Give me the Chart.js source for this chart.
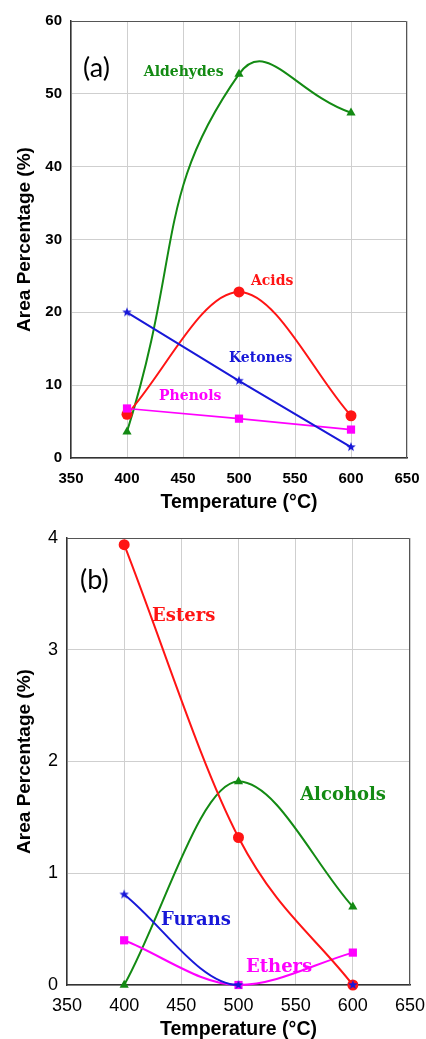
<!DOCTYPE html>
<html>
<head>
<meta charset="utf-8">
<script src="https://cdn.jsdelivr.net/npm/chart.js@4"></script>
<style>
  html, body { margin: 0; padding: 0; background: #fff; }
  #wrap { position: relative; width: 426px; height: 1039px; overflow: hidden; }
  #chartA { position: absolute; left: 0; top: 0; }
  #chartB { position: absolute; left: 0; top: 520px; }
</style>
</head>
<body>
<div id="wrap">
  <canvas id="chartA" width="426" height="520"></canvas>
  <canvas id="chartB" width="426" height="519"></canvas>
</div>
<script>
// temperatures (°C)
const temps = [400, 500, 600];

// panel (a), area %
const aldehydes = [3.6, 52.7, 47.4];
const acids = [6.0, 22.8, 5.8];
const ketones = [20.0, 10.6, 1.5];
const phenols = [6.8, 5.4, 3.9];

// panel (b), area %
const esters = [3.94, 1.32, 0];
const alcohols = [0, 1.82, 0.70];
const furans = [0.81, 0, 0];
const ethers = [0.40, 0, 0.29];

// axes
const xRange = [350, 650];
const yRangeA = [0, 60];
const yRangeB = [0, 4];

const GREEN = '#138a13', RED = '#ff1414', BLUE = '#1818d8', MAGENTA = '#ff00ff';

// filled 5 point star used as marker
function makeStar(color, r) {
    const c = document.createElement('canvas');
    const s = Math.ceil(r * 2 + 2);
    c.width = s; c.height = s;
    const g = c.getContext('2d');
    g.fillStyle = color;
    g.beginPath();
    for (let i = 0; i < 10; i++) {
        const rr = i % 2 === 0 ? r : r * 0.42;
        const a = -Math.PI / 2 + i * Math.PI / 5;
        const px = s / 2 + rr * Math.cos(a), py = s / 2 + rr * Math.sin(a);
        if (i === 0) g.moveTo(px, py); else g.lineTo(px, py);
    }
    g.closePath();
    g.fill();
    return c;
}

function pts(vals) {
    return temps.map((t, i) => ({ x: t, y: vals[i] }));
}

// curve: 0 = straight, 'mono' = monotone cubic, number = bezier tension
function series(label, vals, color, style, radius, curve, width) {
    return {
        label: label,
        data: pts(vals),
        borderColor: color,
        backgroundColor: color,
        pointBackgroundColor: color,
        pointBorderColor: color,
        pointStyle: style,
        pointRadius: radius,
        pointBorderWidth: 0,
        borderWidth: width,
        tension: curve === 'mono' ? 0.4 : curve,
        cubicInterpolationMode: curve === 'mono' ? 'monotone' : 'default',
        capBezierPoints: false,
        clip: false
    };
}

// text labels next to the curves + box round the plot area
const panelPlugin = {
    id: 'panel',
    beforeDatasetsDraw(chart) {
        const { ctx, chartArea: a } = chart;
        ctx.save();
        ctx.strokeStyle = '#555';
        ctx.lineWidth = 1;
        ctx.beginPath();
        ctx.moveTo(a.left, a.top + 0.5);
        ctx.lineTo(a.right - 0.5, a.top + 0.5);
        ctx.lineTo(a.right - 0.5, a.bottom);
        ctx.stroke();
        ctx.restore();
    },
    afterDatasetsDraw(chart, args, opts) {
        const { ctx, scales: { x, y } } = chart;
        ctx.save();
        ctx.textBaseline = 'middle';
        ctx.textAlign = 'left';
        (opts.items || []).forEach(it => {
            ctx.font = it.font;
            ctx.fillStyle = it.color;
            ctx.fillText(it.text, x.getPixelForValue(it.x), y.getPixelForValue(it.y));
        });
        ctx.restore();
    }
};

function makeOptions(o) {
    return {
        responsive: false,
        animation: false,
        layout: { padding: { top: o.padTop, right: o.padRight, left: 0, bottom: 0 } },
        plugins: {
            legend: { display: false },
            tooltip: { enabled: false },
            panel: { items: o.items }
        },
        scales: {
            x: {
                type: 'linear',
                min: xRange[0], max: xRange[1],
                ticks: { stepSize: 50, color: '#000', font: o.tickFont, padding: o.xTickPad },
                grid: { color: '#cfcfcf', drawTicks: false },
                border: { color: '#333', width: 1.5 },
                title: {
                    display: true, text: 'Temperature (°C)', color: '#000',
                    font: { family: 'Liberation Sans, Arial, sans-serif', size: 19.5, weight: 'bold' },
                    padding: { top: 0, bottom: o.xTitlePad }
                },
                afterFit(s) { s.height = o.xHeight; s.paddingLeft = 0; s.paddingRight = 0; }
            },
            y: {
                min: o.yRange[0], max: o.yRange[1],
                ticks: { stepSize: o.yStep, color: '#000', font: o.tickFont, padding: 9 },
                grid: { color: '#cfcfcf', drawTicks: false },
                border: { color: '#333', width: 1.5 },
                title: {
                    display: true, text: 'Area Percentage (%)', color: '#000',
                    font: { family: 'Liberation Sans, Arial, sans-serif', size: 19, weight: 'bold' },
                    padding: { top: 13, bottom: 0 }
                },
                afterFit(s) { s.width = o.yWidth; s.paddingTop = 0; s.paddingBottom = 0; }
            }
        }
    };
}

const serifA = 'bold 14px "DejaVu Serif", serif';
const serifB = 'bold 18px "DejaVu Serif", serif';
const panelFont = '27px Lato, "Open Sans", sans-serif';

new Chart(document.getElementById('chartA'), {
    type: 'line',
    data: {
        datasets: [
            series('Ketones', ketones, BLUE, makeStar(BLUE, 5), 5, 0, 2),
            series('Phenols', phenols, MAGENTA, 'rect', 5.8, 0, 1.6),
            series('Acids', acids, RED, 'circle', 5.5, 'mono', 2),
            series('Aldehydes', aldehydes, GREEN, 'triangle', 5.3, 0.5, 2)
        ]
    },
    options: makeOptions({
        padTop: 21, padRight: 19, yWidth: 71, xHeight: 62, xTickPad: 12, xTitlePad: 6,
        yRange: yRangeA, yStep: 10,
        tickFont: { family: 'Liberation Sans, Arial, sans-serif', size: 15, weight: 'bold' },
        items: [
            { text: '(a)', x: 360.7, y: 53.5, font: panelFont, color: '#000' },
            { text: 'Aldehydes', x: 415, y: 52.9, font: serifA, color: GREEN },
            { text: 'Acids', x: 510.7, y: 24.3, font: serifA, color: RED },
            { text: 'Ketones', x: 491, y: 13.7, font: serifA, color: BLUE },
            { text: 'Phenols', x: 428.6, y: 8.4, font: serifA, color: MAGENTA }
        ]
    }),
    plugins: [panelPlugin]
});

const furanSet = series('Furans', furans, BLUE, makeStar(BLUE, 5), 5, 'mono', 2);
// the last furans point sits on the axis, no line to it
furanSet.segment = { borderColor: c => c.p0DataIndex === 1 ? 'rgba(0,0,0,0)' : BLUE };

new Chart(document.getElementById('chartB'), {
    type: 'line',
    data: {
        datasets: [
            furanSet,
            series('Esters', esters, RED, 'circle', 5.5, 'mono', 2),
            series('Ethers', ethers, MAGENTA, 'rect', 5.8, 'mono', 2),
            series('Alcohols', alcohols, GREEN, 'triangle', 5.3, 'mono', 2)
        ]
    },
    options: makeOptions({
        padTop: 18, padRight: 16, yWidth: 67, xHeight: 54, xTickPad: 10, xTitlePad: -2,
        yRange: yRangeB, yStep: 1,
        tickFont: { family: 'Liberation Sans, Arial, sans-serif', size: 18 },
        items: [
            { text: '(b)', x: 361.4, y: 3.62, font: panelFont, color: '#000' },
            { text: 'Esters', x: 424.4, y: 3.30, font: serifB, color: RED },
            { text: 'Alcohols', x: 553.9, y: 1.70, font: serifB, color: GREEN },
            { text: 'Furans', x: 432.2, y: 0.58, font: serifB, color: BLUE },
            { text: 'Ethers', x: 506.6, y: 0.155, font: serifB, color: MAGENTA }
        ]
    }),
    plugins: [panelPlugin]
});
</script>
</body>
</html>
